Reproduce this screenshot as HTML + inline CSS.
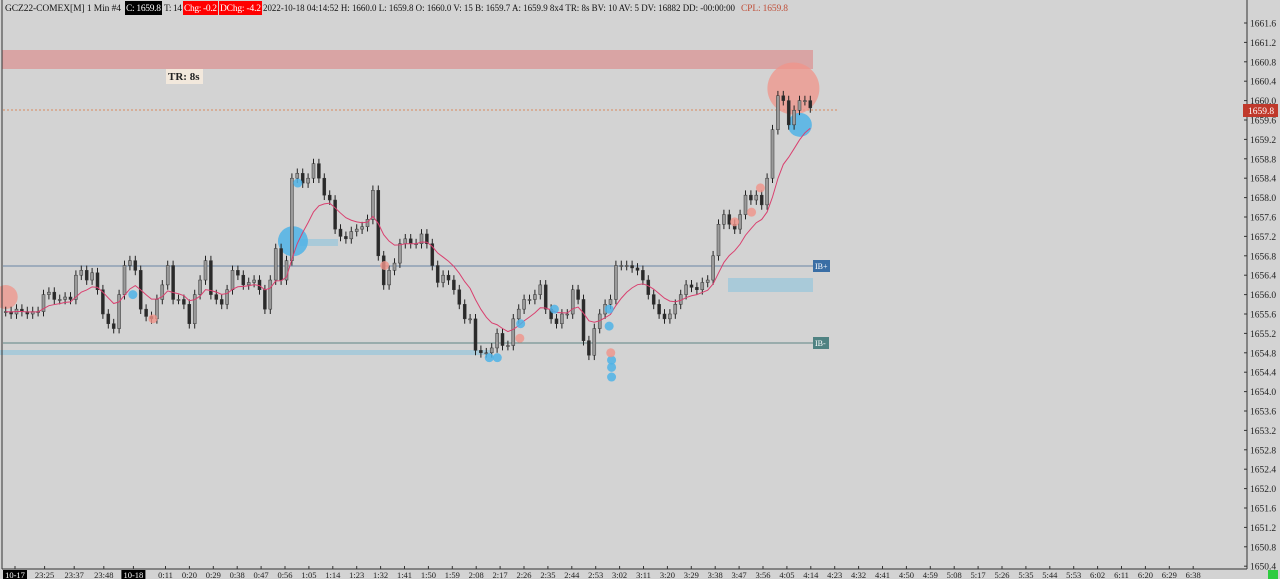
<!DOCTYPE html>
<html><head><meta charset="utf-8"><style>
html,body{margin:0;padding:0;background:#d3d3d3;}
svg{display:block;font-family:"Liberation Serif",serif;}
</style></head><body>
<svg id="chart" width="1280" height="579" viewBox="0 0 1280 579" xmlns="http://www.w3.org/2000/svg">
<rect x="0" y="0" width="1280" height="579" fill="#d3d3d3"/>
<rect x="2" y="50" width="811" height="19" fill="#d9a4a4"/>
<rect x="0" y="350" width="490" height="5" fill="#a9cad9"/>
<rect x="728" y="278" width="85" height="14" fill="#a9cad9"/>
<rect x="300" y="239" width="38" height="7" fill="#a9cad9"/>
<line x1="3" y1="266" x2="813" y2="266" stroke="#6a86a6" stroke-width="1"/>
<line x1="3" y1="343" x2="813" y2="343" stroke="#5f8585" stroke-width="1"/>
<line x1="3" y1="110" x2="838" y2="110" stroke="#d98a5e" stroke-width="1" stroke-dasharray="2,2"/>
<g id="marks"></g>
<g id="plot"></g>
<g id="dots"></g>
<rect x="813" y="260" width="17" height="12" fill="#3a6ea5"/>
<text x="815" y="269" font-size="8" fill="#fff">IB+</text>
<rect x="813" y="337" width="16" height="12" fill="#4f8282"/>
<text x="815" y="346" font-size="8" fill="#fff">IB-</text>
<rect x="166" y="69" width="37" height="15" fill="#f2e8dc"/>
<text x="168" y="80" font-size="11" font-weight="bold" fill="#222">TR: 8s</text>
<line x1="2" y1="0" x2="2" y2="569" stroke="#333"/>
<line x1="1247" y1="0" x2="1247" y2="569" stroke="#333"/>
<line x1="2" y1="569" x2="1247" y2="569" stroke="#333"/>
<g id="yaxis"></g>
<g id="xaxis"></g>
<rect x="1243" y="104" width="35" height="13" fill="#c0392b"/>
<text x="1248" y="114" font-size="9.5" fill="#fff">1659.8</text>
<rect x="1268" y="570" width="10" height="9" fill="#2ecc40"/>
<g font-size="9.5">
<text x="5" y="11" fill="#111" textLength="116">GCZ22-COMEX[M] 1 Min #4</text>
<rect x="125" y="1" width="37" height="14" fill="#000"/>
<text x="126" y="11" fill="#fff" textLength="35">C: 1659.8</text>
<text x="164" y="11" fill="#111" textLength="18">T: 14</text>
<rect x="183" y="1" width="35" height="14" fill="#f00"/>
<text x="184" y="11" fill="#fff" textLength="33">Chg: -0.2</text>
<rect x="219" y="1" width="43" height="14" fill="#f00"/>
<text x="220" y="11" fill="#fff" textLength="41">DChg: -4.2</text>
<text x="263" y="11" fill="#111" textLength="472" lengthAdjust="spacingAndGlyphs">2022-10-18 04:14:52 H: 1660.0 L: 1659.8 O: 1660.0 V: 15 B: 1659.7 A: 1659.9 8x4 TR: 8s BV: 10 AV: 5 DV: 16882 DD: -00:00:00</text>
<text x="741" y="11" fill="#c0503a" textLength="47">CPL: 1659.8</text>
</g>
</svg>
<script>
const closes = [1655.65,1655.6,1655.7,1655.65,1655.6,1655.65,1655.65,
1656.0,1656.05,1655.9,1655.9,1655.95,1655.9,
1656.4,1656.5,1656.3,1656.45,
1656.1,1655.6,1655.4,1655.3,1656.0,
1656.6,1656.7,1656.5,
1655.7,1655.55,1655.5,
1655.9,1656.2,1656.6,
1655.9,1655.9,1655.8,
1655.4,
1656.0,1656.3,1656.7,1656.0,1655.9,1655.8,1656.1,1656.5,1656.4,1656.2,1656.25,1656.3,1656.1,1655.7,1656.3,1656.95,1656.3,1656.7,
1658.4,1658.5,1658.3,1658.4,1658.7,1658.4,1658.05,1657.95,1657.35,1657.2,1657.15,1657.3,1657.35,1657.4,1657.55,1658.15,1656.8,1656.2,1656.5,1656.65,1657.05,1657.15,1657.05,1657.05,1657.25,1657.05,1656.6,1656.25,1656.4,1656.3,1656.1,1655.8,1655.5,1655.5,1654.85,1654.8,1654.8,1654.9,1655.2,1654.95,1654.95,1655.5,1655.7,1655.9,1655.9,1656.0,1656.2,1655.7,1655.5,1655.4,1655.6,1655.6,1656.1,1655.9,1655.05,1654.75,1655.3,1655.6,1655.8,1655.9,1656.6,1656.6,1656.6,1656.55,1656.5,1656.3,1656.0,1655.8,1655.6,1655.5,1655.6,1655.8,1656.0,1656.2,1656.15,1656.1,1656.25,1656.3,1656.8,1657.45,1657.65,1657.45,1657.35,1657.65,1658.05,1657.95,1658.05,1657.85,1658.4,1659.4,1660.1,1660.0,1659.5,1659.8,1660.0,1660.0,1659.85];
const yTicks = ["1661.6","1661.2","1660.8","1660.4","1660.0","1659.6","1659.2","1658.8","1658.4","1658.0","1657.6","1657.2","1656.8","1656.4","1656.0","1655.6","1655.2","1654.8","1654.4","1654.0","1653.6","1653.2","1652.8","1652.4","1652.0","1651.6","1651.2","1650.8","1650.4"];
const xDateLabels = ["10-17","23:25","23:37","23:48","10-18"];
const xTimeLabels = ["0:11","0:20","0:29","0:38","0:47","0:56","1:05","1:14","1:23","1:32","1:41","1:50","1:59","2:08","2:17","2:26","2:35","2:44","2:53","3:02","3:11","3:20","3:29","3:38","3:47","3:56","4:05","4:14","4:23","4:32","4:41","4:50","4:59","5:08","5:17","5:26","5:35","5:44","5:53","6:02","6:11","6:20","6:29","6:38"];
// marker positions as fraction of the bar series (0 = first bar, 1 = last bar)
const blueDotPos = [0.158,0.363,0.640,0.682,0.601,0.611,0.750,0.750,0.753,0.753,0.753];
const blueDotPx = [1656.0,1658.3,1655.4,1655.7,1654.7,1654.7,1655.7,1655.35,1654.65,1654.3,1654.5];
const redDotPos = [0.471,0.183,0.639,0.752,0.906,0.927,0.938];
const redDotPx = [1656.6,1655.5,1655.1,1654.8,1657.5,1657.7,1658.2];
const bigPos = [0.979,0.987,0.357,0.0];
const bigPx = [1660.25,1659.5,1657.1,1655.95];
const bigR = [26,12,15,12];
const bigKind = ["sell","buy","buy","sell"];

const NS="http://www.w3.org/2000/svg";
const N=closes.length, X0=3, X1=813, step=(X1-X0)/N;
function xS(i){return X0+i*step+step/2;}
function xF(f){return xS(f*(N-1));}
function yS(p){return 23+(1661.6-p)*48.5;}
function mk(tag,attrs,parent){const e=document.createElementNS(NS,tag);for(const k in attrs)e.setAttribute(k,attrs[k]);parent.appendChild(e);return e;}
const marks=document.getElementById('marks'), plot=document.getElementById('plot'), dots=document.getElementById('dots');
for(let i=0;i<bigPos.length;i++){
  const c=mk('circle',{cx:xF(bigPos[i]),cy:yS(bigPx[i]),r:bigR[i],fill:bigKind[i]=="sell"?"#f0948a":"#4fb3e6","fill-opacity":bigKind[i]=="sell"?0.75:0.85},marks);
  
  
}
for(let i=0;i<N;i++){
  const o=i?closes[i-1]:closes[i], c=closes[i];
  const hi=Math.max(o,c)+0.1, lo=Math.min(o,c)-0.1, x=xS(i);
  const w=mk('line',{x1:x,x2:x,y1:yS(hi),y2:yS(lo),stroke:"#222","stroke-width":1},plot);
  
  
  const top=yS(Math.max(o,c)), h=Math.max(1,Math.abs(yS(o)-yS(c)));
  const b=mk('rect',{x:x-1.5,y:top,width:3,height:h,fill:c>=o?"#9a9a9a":"#2a2a2a",stroke:"#333","stroke-width":0.5},plot);
  
  
}
let ema=[],k=2/(11);
for(let i=0;i<N;i++){ema.push(i?ema[i-1]+k*(closes[i]-ema[i-1]):closes[i]);}
const ml=mk('polyline',{points:ema.map((v,i)=>xS(i)+","+yS(v)).join(" "),fill:"none",stroke:"#d9406f","stroke-width":1},plot);


for(let i=0;i<blueDotPos.length;i++){
  const d=mk('circle',{cx:xF(blueDotPos[i]),cy:yS(blueDotPx[i]),r:4.5,fill:"#4fb3e6","fill-opacity":0.85},dots);
  
  
}
for(let i=0;i<redDotPos.length;i++){
  const d=mk('circle',{cx:xF(redDotPos[i]),cy:yS(redDotPx[i]),r:4.5,fill:"#f0948a","fill-opacity":0.8},dots);
  
  
}
const ya=document.getElementById('yaxis');
yTicks.forEach(t=>{
  const y=yS(parseFloat(t));
  const tk=mk('line',{x1:1244,x2:1247,y1:y,y2:y,stroke:"#333"},ya);
  
  
  const tx=mk('text',{x:1250,y:y+3.5,"font-size":"9.5",fill:"#222"},ya);
  tx.textContent=t;
  
  
});
const xa=document.getElementById('xaxis');
function xl(label,cx,boxed){
  const tk=mk('line',{x1:cx,x2:cx,y1:566,y2:569,stroke:"#333"},xa);
  
  
  if(boxed){const r=mk('rect',{x:cx-12,y:570,width:24,height:9,fill:"#000"},xa);
    
    }
  const t=mk('text',{x:cx,y:578,"font-size":"8.5",fill:boxed?"#fff":"#222","text-anchor":"middle"},xa);
  t.textContent=label;
  
  
}
xDateLabels.forEach((l,i)=>xl(l,15+i*29.6,l.indexOf("-")>0));
xTimeLabels.forEach((l,i)=>xl(l,165.5+i*23.9,false));
</script>
</body></html>
